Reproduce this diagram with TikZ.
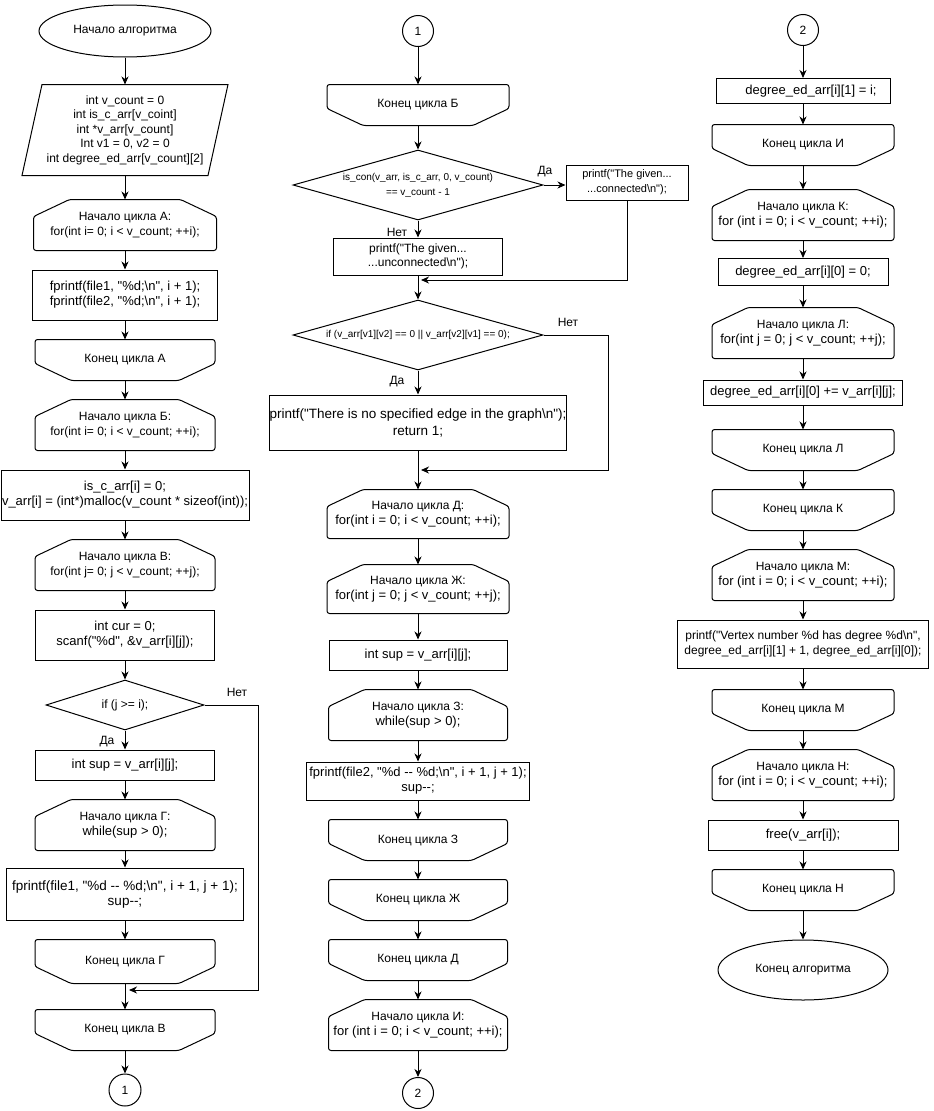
\documentclass[tikz,border=0pt]{standalone}
\usepackage{fontspec}
\usetikzlibrary{shapes.geometric,arrows.meta}
\newfontfamily\drawfont{Liberation Sans}
\newcommand\codeline[1]{{\fontsize{13}{15}\selectfont #1}}

\tikzset{
  proc/.style 2 args={rectangle,draw,minimum width=#1,minimum height=#2},
  loopbox/.style 2 args={rectangle,minimum width=#1,minimum height=#2},
  cond/.style={diamond,draw,aspect=3.5},
  term/.style={ellipse,draw,minimum width=172,minimum height=52},
  link/.style={circle,draw,minimum size=31},
  arr/.style={-{Stealth[length=8pt,width=7pt,inset=2.5pt]}},
  txt/.style={font=\drawfont\fontsize{#1}{15}\selectfont}
}

\begin{document}
\begin{tikzpicture}[x=1pt,y=-1pt,line width=1pt,
  every node/.style={font=\drawfont\fontsize{12}{14.5}\selectfont,align=center,inner sep=0}]
\useasboundingbox (0,0) rectangle (934,1111);

% left column
\node[term] (start) at (125,31) {Начало алгоритма};
\node[loopbox={205}{90}] (vars) at (125,130) {int v\_count = 0\\int is\_c\_arr[v\_coint]\\int *v\_arr[v\_count]\\Int v1 = 0, v2 = 0\\int degree\_ed\_arr[v\_count][2]};
\node[loopbox={182}{50}] (la) at (125,225) {Начало цикла А:\\for(int i= 0; i < v\_count; ++i);};
\node[proc={185}{50},txt=13] (fa) at (125,295) {fprintf(file1, "\%d;\textbackslash n", i + 1);\\fprintf(file2, "\%d;\textbackslash n", i + 1);};
\node[loopbox={179}{40}] (ea) at (125,360) {Конец цикла А};
\node[loopbox={179}{50}] (lb) at (125,425) {Начало цикла Б:\\for(int i= 0; i < v\_count; ++i);};
\node[proc={248}{50},txt=13] (mal) at (125,495) {is\_c\_arr[i] = 0;\\v\_arr[i] = (int*)malloc(v\_count * sizeof(int));};
\node[loopbox={179}{50}] (lv) at (125,565) {Начало цикла В:\\for(int j= 0; j < v\_count; ++j);};
\node[proc={179}{50},txt=13] (cur) at (125,635) {int cur = 0;\\scanf("\%d", \&v\_arr[i][j]);};
\node[cond,minimum width=158,minimum height=50] (if1) at (125,705) {if (j >= i);};
\node[proc={179}{30},txt=13] (sup1) at (125,765) {int sup = v\_arr[i][j];};
\node[loopbox={179}{50}] (lg) at (125,825) {Начало цикла Г:\\\codeline{while(sup > 0);}};
\node[proc={237}{52},txt=13.5] (f1) at (125,894) {fprintf(file1, "\%d -- \%d;\textbackslash n", i + 1, j + 1);\\sup--;};
\node[loopbox={179}{43}] (eg) at (125,961.5) {Конец цикла Г};
\node[loopbox={179}{40}] (ev) at (125,1030) {Конец цикла В};
\node[link,minimum size=32] (c1) at (125,1090) {1};

% middle column
\node[link] (c1m) at (418,31) {1};
\node[loopbox={181}{40}] (eb) at (418,105) {Конец цикла Б};
\node[cond,txt=10,minimum width=250,minimum height=70] (if2) at (418,185) {is\_con(v\_arr, is\_c\_arr, 0, v\_count)\\== v\_count - 1};
\node[proc={122}{35},txt=11] (pcon) at (627,182.5) {printf("The given...\\...connected\textbackslash n");};
\node[proc={169}{37}] (punc) at (418,256.5) {printf("The given...\\...unconnected\textbackslash n");};
\node[cond,txt=10,minimum width=250,minimum height=70] (if3) at (418,335) {if (v\_arr[v1][v2] == 0 || v\_arr[v2][v1] == 0);};
\node[proc={297}{55},font=\drawfont\fontsize{13.5}{17}\selectfont] (noedge) at (418,422.5) {printf("There is no specified edge in the graph\textbackslash n");\\return 1;};
\node[loopbox={181}{48}] (ld) at (418,514) {Начало цикла Д:\\\codeline{for(int i = 0; i < v\_count; ++i);}};
\node[loopbox={181}{48}] (lzh) at (418,589) {Начало цикла Ж:\\\codeline{for(int j = 0; j < v\_count; ++j);}};
\node[proc={178}{30},txt=13] (sup2) at (418,655) {int sup = v\_arr[i][j];};
\node[loopbox={178}{50}] (lz) at (418,715) {Начало цикла З:\\\codeline{while(sup > 0);}};
\node[proc={223}{38},txt=13] (f2) at (418,781) {fprintf(file2, "\%d -- \%d;\textbackslash n", i + 1, j + 1);\\sup--;};
\node[loopbox={178}{40}] (ez) at (418,840) {Конец цикла З};
\node[loopbox={178}{40}] (ezh) at (418,900) {Конец цикла Ж};
\node[loopbox={178}{40}] (ed) at (418,960) {Конец цикла Д};
\node[loopbox={178}{50}] (li) at (418,1025) {Начало цикла И:\\\codeline{for (int i = 0; i < v\_count; ++i);}};
\node[link] (c2m) at (418,1093) {2};

% right column
\node[link] (c2r) at (803,30) {2};
\node[proc={174}{25},txt=13] (d1) at (803,91) {\hspace*{16pt}degree\_ed\_arr[i][1] = i;};
\node[loopbox={181}{40}] (ei) at (803,145) {Конец цикла И};
\node[loopbox={181}{50}] (lk) at (803,215) {Начало цикла К:\\\codeline{for (int i = 0; i < v\_count; ++i);}};
\node[proc={170}{27},txt=13] (d0) at (803,272) {degree\_ed\_arr[i][0] = 0;};
\node[loopbox={181}{50}] (ll) at (803,333) {Начало цикла Л:\\\codeline{for(int j = 0; j < v\_count; ++j);}};
\node[proc={199}{25},txt=13] (dsum) at (803,392.5) {degree\_ed\_arr[i][0] += v\_arr[i][j];};
\node[loopbox={181}{40}] (el) at (803,450) {Конец цикла Л};
\node[loopbox={181}{40}] (ek) at (803,510) {Конец цикла К};
\node[loopbox={181}{50}] (lm) at (803,575) {Начало цикла М:\\\codeline{for (int i = 0; i < v\_count; ++i);}};
\node[proc={251}{48}] (pv) at (803,644) {printf("Vertex number \%d has degree \%d\textbackslash n",\\degree\_ed\_arr[i][1] + 1, degree\_ed\_arr[i][0]);};
\node[loopbox={181}{40}] (em) at (803,710) {Конец цикла М};
\node[loopbox={181}{50}] (ln) at (803,775) {Начало цикла Н:\\\codeline{for (int i = 0; i < v\_count; ++i);}};
\node[proc={190}{30},txt=13] (fr) at (803,835) {free(v\_arr[i]);};
\node[loopbox={181}{40}] (en) at (803,890) {Конец цикла Н};
\node[term,minimum width=170,minimum height=60] (fin) at (803,970) {Конец алгоритма};

% shapes drawn around the boxes
\draw ([xshift=20]vars.north west) -- (vars.north east) -- ([xshift=-20]vars.south east) -- (vars.south west) -- cycle;
\foreach \n in {la,lb,lv,lg,ld,lzh,lz,li,lk,ll,lm,ln}
  \draw[rounded corners=2.5] ([xshift=36]\n.north west) -- ([xshift=-36]\n.north east) -- ([yshift=-17]\n.north east)
    -- (\n.south east) -- (\n.south west) -- ([yshift=-17]\n.north west) -- cycle;
\foreach \n in {ea,eg,ev,eb,ez,ezh,ed,ei,el,ek,em,en}
  \draw[rounded corners=2.5] (\n.north west) -- (\n.north east) -- ([yshift=17]\n.south east)
    -- ([xshift=-36]\n.south east) -- ([xshift=36]\n.south west) -- ([yshift=17]\n.south west) -- cycle;

% connectors
\foreach \from/\to in {start/vars,vars/la,la/fa,fa/ea,ea/lb,lb/mal,mal/lv,lv/cur,cur/if1,if1/sup1,sup1/lg,lg/f1,f1/eg,eg/ev,ev/c1,
    c1m/eb,eb/if2,if2/punc,punc/if3,if3/noedge,noedge/ld,ld/lzh,lzh/sup2,sup2/lz,lz/f2,f2/ez,ez/ezh,ezh/ed,ed/li,li/c2m,
    c2r/d1,d1/ei,ei/lk,lk/d0,d0/ll,ll/dsum,dsum/el,el/ek,ek/lm,lm/pv,pv/em,em/ln,ln/fr,fr/en,en/fin}
  \draw[arr] (\from) -- (\to);

\coordinate (r1) at (258,990);
\coordinate (m1) at (129,990);
\draw[arr] (if1.east) -| (r1) -- (m1);
\draw[arr] (if2.east) -- (if2.east -| pcon.west);
\coordinate (m2) at (421,280);
\draw[arr] (pcon.south) |- (m2);
\coordinate (r3) at (608,470);
\coordinate (m3) at (421,470);
\draw[arr] (if3.east) -| (r3) -- (m3);

% labels
\node (no1) at (237,692) {Нет};
\node (yes1) at (107,742) {Да};
\node (yes2) at (545,172) {Да};
\node (no2) at (397,232) {Нет};
\node (no3) at (568,322) {Нет};
\node (yes3) at (397,382) {Да};
\end{tikzpicture}
\end{document}
